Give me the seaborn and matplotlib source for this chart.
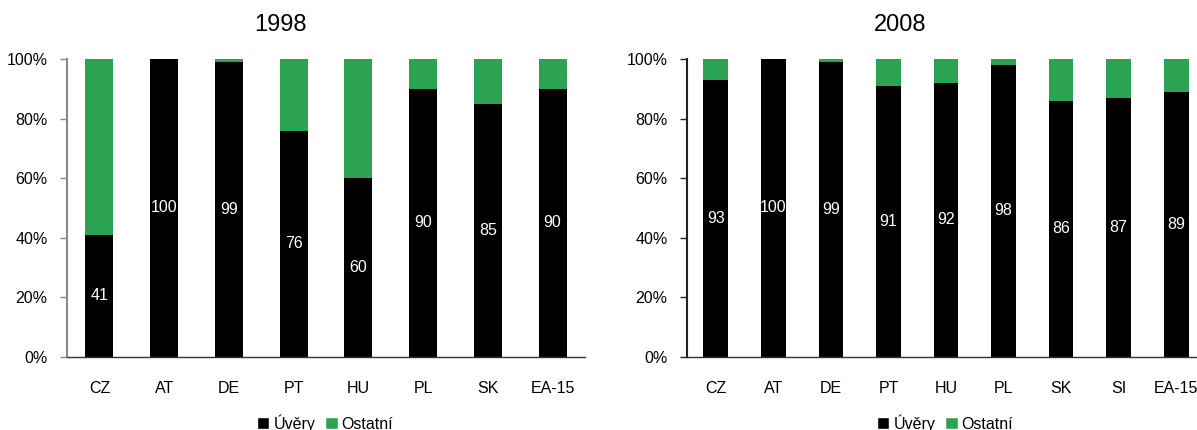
import pandas as pd
import seaborn as sns
import matplotlib.pyplot as plt
from matplotlib.patches import Patch
from matplotlib.ticker import PercentFormatter

# data (share of loans vs. other, %)
countries_1998 = ["CZ", "AT", "DE", "PT", "HU", "PL", "SK", "EA-15"]
uvery_1998 = [41, 100, 99, 76, 60, 90, 85, 90]
ostatni_1998 = [59, 0, 1, 24, 40, 10, 15, 10]

countries_2008 = ["CZ", "AT", "DE", "PT", "HU", "PL", "SK", "SI", "EA-15"]
uvery_2008 = [93, 100, 99, 91, 92, 98, 86, 87, 89]
ostatni_2008 = [7, 0, 1, 9, 8, 2, 14, 13, 11]

GREEN = "#2ca352"
BLACK = "#000000"

sns.set_style("white")
plt.rcParams["font.family"] = ["Liberation Sans", "DejaVu Sans"]
plt.rcParams["text.color"] = "black"
plt.rcParams["xtick.color"] = "black"
plt.rcParams["ytick.color"] = "black"


def draw_panel(ax, countries, uvery, ostatni, spine_color):
    df = pd.DataFrame({"country": countries, "uvery": uvery, "ostatni": ostatni})
    df["total"] = df["uvery"] + df["ostatni"]
    sns.barplot(data=df, x="country", y="total", color=GREEN, width=0.43,
                saturation=1, linewidth=0, ax=ax)
    sns.barplot(data=df, x="country", y="uvery", color=BLACK, width=0.43,
                saturation=1, linewidth=0, ax=ax)
    ax.bar_label(ax.containers[1], labels=[str(v) for v in uvery],
                 label_type="center", color="white", fontsize=11.5)

    n = len(countries)
    ax.set_xlim(-0.5, n - 0.5)
    ax.set_ylim(0, 100)
    ax.set_yticks(range(0, 101, 20))
    ax.yaxis.set_major_formatter(PercentFormatter(decimals=0))
    ax.set_xticks([i - 0.5 for i in range(n + 1)], minor=True)
    ax.tick_params(axis="x", which="major", length=0, pad=17, labelsize=11.5,
                   labelcolor="black")
    ax.tick_params(axis="x", which="minor", length=4, color="#555555", width=1)
    ax.tick_params(axis="y", length=5, width=1, color=spine_color, pad=9,
                   labelsize=11.5, labelcolor="black", left=True)
    ax.set_xlabel("")
    ax.set_ylabel("")
    for s in ["top", "right"]:
        ax.spines[s].set_visible(False)
    ax.spines["left"].set_color(spine_color)
    ax.spines["left"].set_linewidth(1.5)
    ax.spines["bottom"].set_color("#333333")
    ax.spines["bottom"].set_linewidth(1)


fig = plt.figure(figsize=(11.97, 4.30), dpi=100)
ax1 = fig.add_axes([67 / 1197, 73 / 430, 518 / 1197, 298 / 430])
ax2 = fig.add_axes([687 / 1197, 73 / 430, 518 / 1197, 298 / 430])

draw_panel(ax1, countries_1998, uvery_1998, ostatni_1998, "#888888")
draw_panel(ax2, countries_2008, uvery_2008, ostatni_2008, "#222222")

fig.text(281 / 1197, 1 - 25 / 430, "1998", ha="center", va="center", fontsize=17)
fig.text(900 / 1197, 1 - 25 / 430, "2008", ha="center", va="center", fontsize=17)

handles = [Patch(facecolor=BLACK, label="Úvěry"), Patch(facecolor=GREEN, label="Ostatní")]
for cx in [325, 945]:
    fig.legend(handles=handles, loc="center", bbox_to_anchor=(cx / 1197, 1 - 423 / 430),
               ncol=2, frameon=False, fontsize=11.5, handlelength=0.8, handleheight=0.8,
               handletextpad=0.25, columnspacing=0.6, borderpad=0)

fig.savefig("out.png", dpi=100)
